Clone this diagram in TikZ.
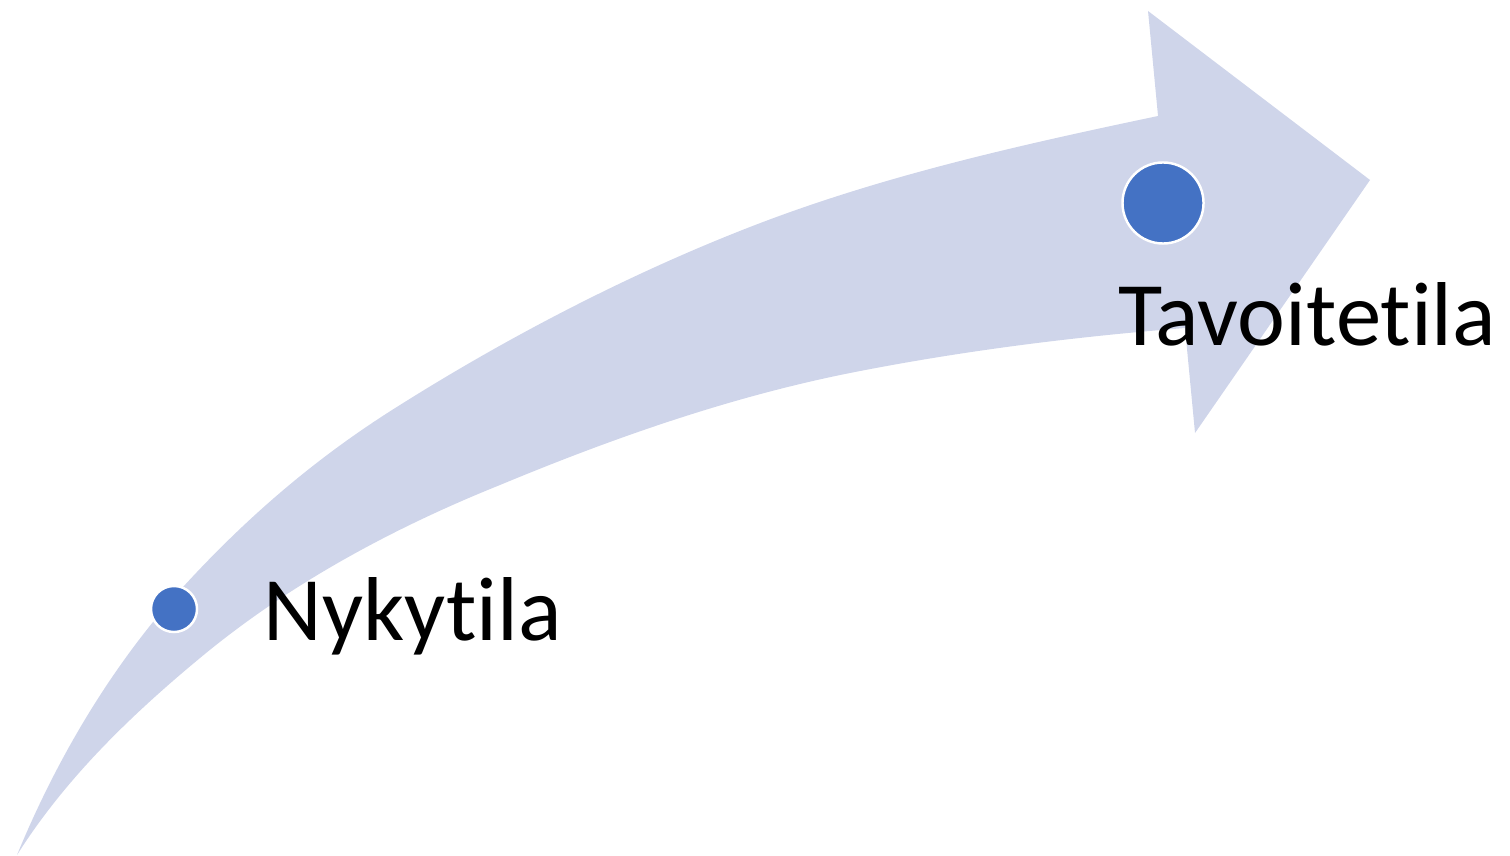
\documentclass[tikz,border=0pt]{standalone}
\usepackage{fontspec}
\setmainfont[Ligatures=NoCommon]{Carlito}
\definecolor{arrowfill}{HTML}{CFD5EA}
\definecolor{dotblue}{HTML}{4472C4}
\tikzset{
  arrowshape/.style={fill=arrowfill, draw=none},
  stagedot/.style={circle, fill=dotblue, draw=white, line width=0.7pt, inner sep=0pt},
  stagelabel/.style={anchor=base west, inner sep=0pt, font=\fontsize{25.8pt}{30pt}\selectfont, text=black}
}
\begin{document}
\begin{tikzpicture}[x=0.01cm, y=-0.01cm]
\path[use as bounding box] (0,0) rectangle (1510,855);
\fill[arrowshape]
  (17,855) .. controls (57,758) and (112,665) .. (183,587)
  .. controls (248,516) and (318,456) .. (400,405)
  .. controls (508,337) and (629,274) .. (750,227)
  .. controls (881,176) and (1020,145) .. (1158,116)
  -- (1148,11) -- (1370,180) -- (1195,433) -- (1185,328)
  .. controls (1072,337) and (961,351) .. (850,373)
  .. controls (730,397) and (613,438) .. (500,485)
  .. controls (393,528) and (289,584) .. (200,658)
  .. controls (130,716) and (65,779) .. (17,855)
  -- cycle;
\node[stagedot, minimum size=0.46cm] (now) at (174,609) {};
\node[stagedot, minimum size=0.81cm] (goal) at (1163,203) {};
\node[stagelabel] (nowlabel) at (263,640) {Nykytila};
\node[stagelabel] (goallabel) at (1118,346) {Tavoitetila};
\end{tikzpicture}
\end{document}
